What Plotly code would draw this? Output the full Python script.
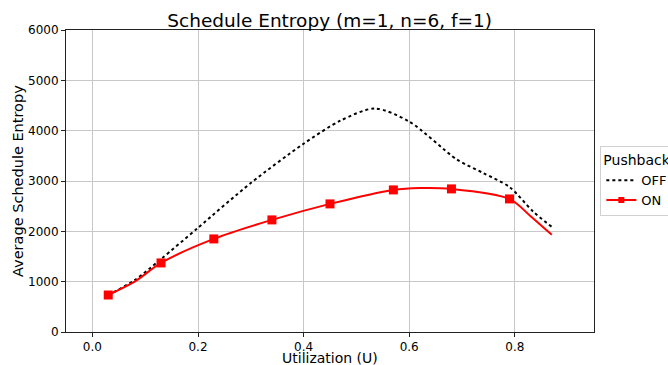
import plotly.graph_objects as go

# Pushback OFF (dotted black)
off_u = [0.03, 0.08, 0.13, 0.20, 0.30, 0.40, 0.47, 0.535, 0.60, 0.69, 0.74, 0.79, 0.835, 0.87]
off_entropy = [735, 1030, 1450, 2070, 2960, 3740, 4200, 4440, 4180, 3430, 3160, 2880, 2390, 2090]

# Pushback ON (red with square markers)
on_u = [0.03, 0.08, 0.13, 0.23, 0.34, 0.45, 0.57, 0.62, 0.68, 0.79, 0.83, 0.87]
on_entropy = [735, 1000, 1372, 1849, 2227, 2545, 2823, 2860, 2843, 2644, 2300, 1930]
on_marked = [True, False, True, True, True, True, True, False, True, True, False, False]

x_ticks = [0.0, 0.2, 0.4, 0.6, 0.8]
y_ticks = [0, 1000, 2000, 3000, 4000, 5000, 6000]

FONT = "DejaVu Sans"

fig = go.Figure()
fig.add_trace(go.Scatter(
    x=off_u, y=off_entropy, name="OFF", mode="lines",
    line=dict(color="black", width=2, dash="dot", shape="spline", smoothing=0.8),
))
fig.add_trace(go.Scatter(
    x=on_u, y=on_entropy, name="ON", mode="lines+markers",
    line=dict(color="#ff0000", width=2, shape="spline", smoothing=0.8),
    marker=dict(symbol="square", color="#ff0000", opacity=1,
                line=dict(width=0, color="#ff0000"),
                size=[9 if m else 0 for m in on_marked]),
))

axis_common = dict(
    showline=True, linecolor="#222222", linewidth=1, mirror=True,
    showgrid=True, gridcolor="#c8c8c8", gridwidth=1,
    ticks="outside", ticklen=4, tickcolor="#222222",
    tickfont=dict(family=FONT, size=12, color="black"),
    zeroline=False, automargin=False,
)

fig.update_layout(
    width=668, height=365,
    margin=dict(l=66, r=74, t=30, b=33, autoexpand=False),
    paper_bgcolor="white", plot_bgcolor="white",
    font=dict(family=FONT, color="black"),
    title=dict(text="Schedule Entropy (m=1, n=6, f=1)", x=0.4935, xanchor="center",
               y=0.945, yanchor="middle", font=dict(family=FONT, size=18.5, color="black")),
    xaxis=dict(range=[-0.05, 0.95], tickvals=x_ticks, tickformat=".1f", **axis_common),
    yaxis=dict(range=[0, 6000], tickvals=y_ticks, tickformat="d", **axis_common),
    legend=dict(title=dict(text="Pushback", font=dict(family=FONT, size=14)),
                x=1.012, xanchor="left", y=0.5, yanchor="middle",
                font=dict(family=FONT, size=13),
                bordercolor="#d0d0d0", borderwidth=1, bgcolor="white",
                tracegroupgap=0, itemwidth=30),
    showlegend=True,
    annotations=[
        dict(text="Utilization (U)", xref="paper", yref="paper", x=0.5, y=-0.087,
             xanchor="center", yanchor="middle", showarrow=False,
             font=dict(family=FONT, size=14, color="black")),
        dict(text="Average Schedule Entropy", xref="paper", yref="paper", x=-0.091, y=0.5,
             xanchor="center", yanchor="middle", textangle=-90, showarrow=False,
             font=dict(family=FONT, size=14.5, color="black")),
    ],
)

fig.write_html(
    "out.html",
    config={"displayModeBar": False},
    post_script="document.body.style.margin='0';document.body.style.overflow='hidden';",
)
